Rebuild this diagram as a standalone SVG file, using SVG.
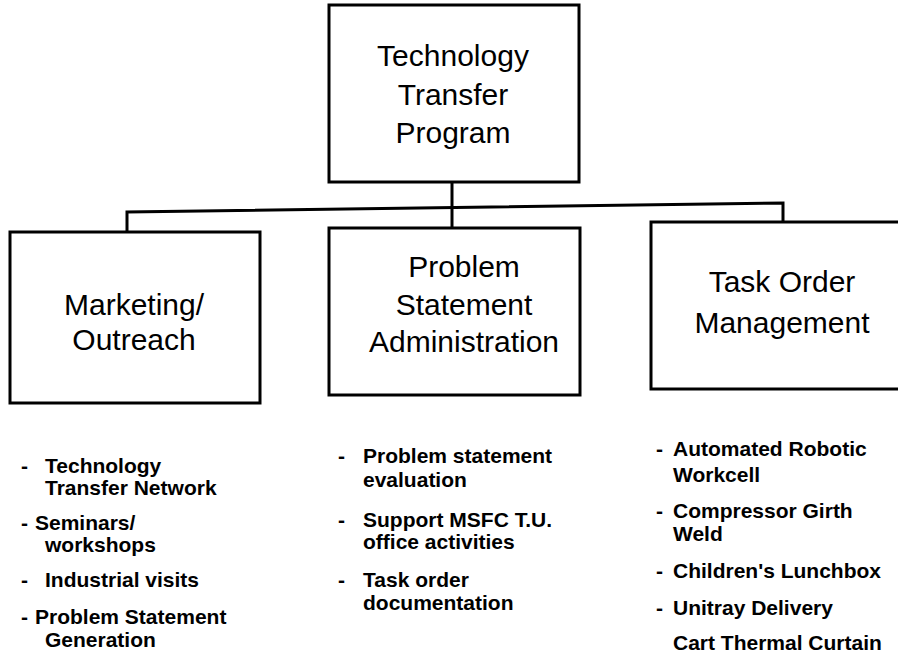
<svg xmlns="http://www.w3.org/2000/svg" width="898" height="663" viewBox="0 0 898 663">
<style>
.box{fill:#fff;stroke:#000;stroke-width:3}
.t{font-family:"Liberation Sans",Arial,sans-serif;font-size:30px;text-anchor:middle;fill:#000}
.b{font-family:"Liberation Sans",Arial,sans-serif;font-size:21px;font-weight:bold;fill:#000}
.c{fill:none;stroke:#000;stroke-width:3}
</style>
<rect width="898" height="663" fill="#fff"/>
<g id="connectors">
<path class="c" d="M452 182 V228"/>
<path class="c" d="M127 232 V212 L783 203 V222"/>
</g>
<g id="top">
<rect class="box" x="329" y="5" width="250" height="177"/>
<text class="t" x="453" y="66">Technology</text>
<text class="t" x="453" y="105">Transfer</text>
<text class="t" x="453" y="143">Program</text>
</g>
<g id="marketing">
<rect class="box" x="10" y="232" width="250" height="171"/>
<text class="t" x="134" y="315">Marketing/</text>
<text class="t" x="134" y="350">Outreach</text>
</g>
<g id="problem">
<rect class="box" x="329" y="228" width="251" height="167"/>
<text class="t" x="464" y="277">Problem</text>
<text class="t" x="464" y="315">Statement</text>
<text class="t" x="464" y="352">Administration</text>
</g>
<g id="task">
<rect class="box" x="651" y="222" width="270" height="167"/>
<text class="t" x="782" y="292">Task Order</text>
<text class="t" x="782" y="333">Management</text>
</g>
<g id="marketing-items">
<text class="b" x="21" y="473">-</text><text class="b" x="45" y="473">Technology</text>
<text class="b" x="45" y="495">Transfer Network</text>
<text class="b" x="21" y="530">-</text><text class="b" x="35" y="530">Seminars/</text>
<text class="b" x="45" y="552">workshops</text>
<text class="b" x="21" y="587">-</text><text class="b" x="45" y="587">Industrial visits</text>
<text class="b" x="21" y="624">-</text><text class="b" x="35" y="624">Problem Statement</text>
<text class="b" x="45" y="647">Generation</text>
</g>
<g id="problem-items">
<text class="b" x="338" y="463">-</text><text class="b" x="363" y="463">Problem statement</text>
<text class="b" x="363" y="487">evaluation</text>
<text class="b" x="338" y="527">-</text><text class="b" x="363" y="527">Support MSFC T.U.</text>
<text class="b" x="363" y="549">office activities</text>
<text class="b" x="338" y="587">-</text><text class="b" x="363" y="587">Task order</text>
<text class="b" x="363" y="610">documentation</text>
</g>
<g id="task-items">
<text class="b" x="656" y="456">-</text><text class="b" x="673" y="456">Automated Robotic</text>
<text class="b" x="673" y="482">Workcell</text>
<text class="b" x="656" y="518">-</text><text class="b" x="673" y="518">Compressor Girth</text>
<text class="b" x="673" y="541">Weld</text>
<text class="b" x="656" y="578">-</text><text class="b" x="673" y="578">Children's Lunchbox</text>
<text class="b" x="656" y="615">-</text><text class="b" x="673" y="615">Unitray Delivery</text>
<text class="b" x="673" y="650">Cart Thermal Curtain</text>
</g>
</svg>
